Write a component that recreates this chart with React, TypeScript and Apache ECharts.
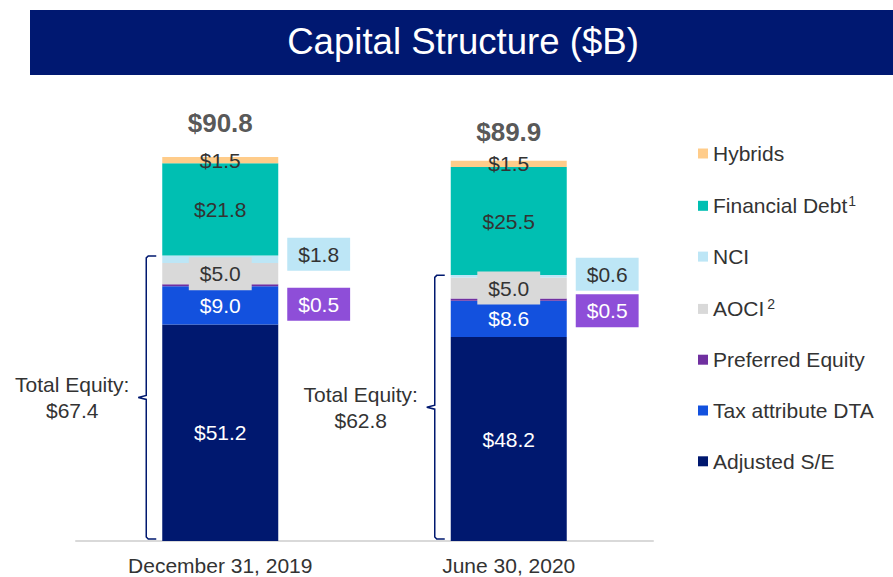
import React, { useEffect, useRef } from "react";
import * as echarts from "echarts";

const categories = ["December 31, 2019", "June 30, 2020"];
const adjustedSE = [51.2, 48.2];
const taxDTA = [9.0, 8.6];
const preferredEquity = [0.5, 0.5];
const aoci = [5.0, 5.0];
const nci = [1.8, 0.6];
const financialDebt = [21.8, 25.5];
const hybrids = [1.5, 1.5];
const totals = [90.8, 89.9];
const totalEquity = [67.4, 62.8];

const FONT = "'Liberation Sans', Arial, Helvetica, sans-serif";
const NAVY = "#00186F";
const TEXT = "#333333";

export default function App() {
  const ref = useRef<HTMLDivElement>(null);
  useEffect(() => {
    if (!ref.current) return;
    const chart = echarts.init(ref.current, undefined, { renderer: "svg" });
    const fmt = (p: any) => "$" + Number(p.value).toFixed(1);
    const baseLabel = {
      show: true,
      fontSize: 21,
      fontFamily: FONT,
      formatter: fmt,
    };
    const barW = 116;
    const option: any = {
      animation: false,
      textStyle: { fontFamily: FONT },
      grid: { left: 76, right: 240, top: 118, bottom: 36 },
      xAxis: {
        type: "category",
        data: categories,
        axisLine: { lineStyle: { color: "#D9D9D9", width: 2 } },
        axisTick: { show: false },
        axisLabel: { fontSize: 21, color: TEXT, margin: 14, fontFamily: FONT },
      },
      yAxis: { type: "value", min: 0, max: 100, show: false, splitLine: { show: false } },
      legend: {
        orient: "vertical",
        left: 698,
        top: 143,
        padding: 0,
        itemWidth: 10,
        itemHeight: 10,
        itemGap: 29.8,
        icon: "rect",
        data: [
          "Hybrids",
          "Financial Debt",
          "NCI",
          "AOCI",
          "Preferred Equity",
          "Tax attribute DTA",
          "Adjusted S/E",
        ],
        formatter: (name: string) => {
          if (name === "Financial Debt") return "{a|Financial Debt}{s|1}";
          if (name === "AOCI") return "{a|AOCI}{t|2}";
          return "{a|" + name + "}";
        },
        textStyle: {
          fontSize: 21,
          color: TEXT,
          fontFamily: FONT,
          rich: {
            a: { fontSize: 21, lineHeight: 24, color: TEXT, fontFamily: FONT },
            s: { fontSize: 14, lineHeight: 24, verticalAlign: "top", color: TEXT, fontFamily: FONT, padding: [0, 0, 0, 1] },
            t: { fontSize: 14, lineHeight: 24, verticalAlign: "top", color: TEXT, fontFamily: FONT, padding: [0, 0, 0, 3] },
          },
        },
      },
      series: [
        {
          name: "Adjusted S/E",
          type: "bar",
          stack: "cap",
          barWidth: barW,
          data: adjustedSE,
          itemStyle: { color: NAVY },
          label: { ...baseLabel, position: "inside", color: "#ffffff" },
        },
        {
          name: "Tax attribute DTA",
          type: "bar",
          stack: "cap",
          data: taxDTA,
          itemStyle: { color: "#1351DE" },
          label: { ...baseLabel, position: "inside", color: "#ffffff" },
        },
        {
          name: "Preferred Equity",
          type: "bar",
          stack: "cap",
          data: [
            { value: preferredEquity[0], label: { offset: [0, 19] } },
            { value: preferredEquity[1], label: { offset: [0, 11] } },
          ],
          itemStyle: { color: "#7030A0" },
          label: {
            ...baseLabel,
            position: "right",
            distance: 9,
            color: "#ffffff",
            backgroundColor: "#8E4ED8",
            padding: [6, 11],
            lineHeight: 21,
          },
        },
        {
          name: "AOCI",
          type: "bar",
          stack: "cap",
          data: aoci,
          itemStyle: { color: "#D9D9D9" },
          label: {
            ...baseLabel,
            position: "inside",
            color: TEXT,
            backgroundColor: "#D9D9D9",
            padding: [6, 11],
            lineHeight: 21,
          },
        },
        {
          name: "NCI",
          type: "bar",
          stack: "cap",
          data: [
            { value: nci[0], label: { offset: [0, -5] } },
            { value: nci[1], label: { offset: [0, -2] } },
          ],
          itemStyle: { color: "#BDE6F6" },
          label: {
            ...baseLabel,
            position: "right",
            distance: 9,
            color: TEXT,
            backgroundColor: "#BDE6F6",
            padding: [6, 11],
            lineHeight: 21,
          },
        },
        {
          name: "Financial Debt",
          type: "bar",
          stack: "cap",
          data: financialDebt,
          itemStyle: { color: "#00BFB2" },
          label: { ...baseLabel, position: "inside", color: TEXT },
        },
        {
          name: "Hybrids",
          type: "bar",
          stack: "cap",
          data: hybrids,
          itemStyle: { color: "#FFCC8A" },
          label: { ...baseLabel, position: "inside", color: TEXT },
        },
        {
          name: "Total",
          type: "scatter",
          symbolSize: 1,
          itemStyle: { color: "rgba(0,0,0,0)" },
          data: [
            { value: totals[0], label: { distance: 20 } },
            { value: totals[1], label: { distance: 15 } },
          ],
          label: {
            show: true,
            position: "top",
            fontSize: 26,
            fontWeight: "bold",
            color: "#2b2b2b",
            fontFamily: FONT,
            formatter: fmt,
          },
          silent: true,
        },
      ],
    };
    chart.setOption(option);

    const graphics: any[] = [
      {
        type: "rect",
        shape: { x: 30, y: 10, width: 863, height: 65 },
        style: { fill: "#001871" },
        z: 0,
      },
      {
        type: "text",
        x: 463,
        y: 41,
        style: {
          text: "Capital Structure ($B)",
          fill: "#ffffff",
          fontSize: 36.6,
          fontFamily: FONT,
          align: "center",
          verticalAlign: "middle",
        },
        z: 1,
      },
    ];
    categories.forEach((_, i) => {
      const top = chart.convertToPixel({ gridIndex: 0 }, [i, totalEquity[i]]) as number[];
      const base = chart.convertToPixel({ gridIndex: 0 }, [i, 0]) as number[];
      const x = top[0] - barW / 2 - 16;
      const y0 = top[1];
      const y1 = base[1] - 2;
      const mid = (y0 + y1) / 2;
      graphics.push({
        type: "polyline",
        shape: {
          points: [
            [x + 10, y0],
            [x + 2, y0],
            [x, y0 + 2],
            [x, mid - 2],
            [x - 8, mid],
            [x, mid + 2],
            [x, y1 - 2],
            [x + 2, y1],
            [x + 10, y1],
          ],
        },
        style: { stroke: NAVY, lineWidth: 1.5, fill: "none" },
        z: 5,
      });
      graphics.push({
        type: "text",
        x: x - 74,
        y: mid,
        style: {
          text: "Total Equity:\n$" + totalEquity[i].toFixed(1),
          fill: TEXT,
          fontSize: 21,
          lineHeight: 26,
          fontFamily: FONT,
          align: "center",
          verticalAlign: "middle",
        },
        z: 5,
      });
    });
    chart.setOption({ graphic: graphics });

    return () => chart.dispose();
  }, []);
  return <div ref={ref} style={{ width: 893, height: 577, position: "absolute", left: 0, top: 0 }} />;
}
